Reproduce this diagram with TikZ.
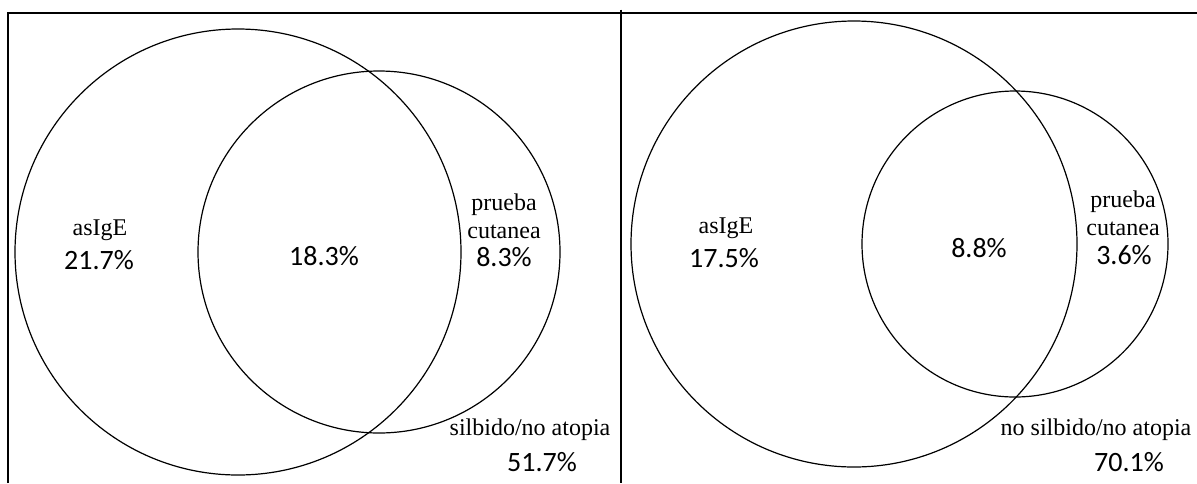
\documentclass[tikz,border=0pt]{standalone}
\usepackage{fontspec}
\setmainfont{Liberation Serif}
\newfontfamily\numfont{Carlito}
\usetikzlibrary{positioning}

\begin{document}
\begin{tikzpicture}[x=0.5pt, y=-0.5pt,
        venn/.style={circle, draw=black, line width=0.6pt,
                     inner sep=0pt, outer sep=0pt},
        word/.style={font=\fontsize{12}{14}\selectfont, inner sep=0pt, align=center},
        pct/.style={font=\numfont\fontsize{14}{16}\selectfont, inner sep=0pt},
        frame/.style={line width=1pt},
    ]
    \useasboundingbox (0,0) rectangle (1197,483);

    % marco
    \draw[frame] (8,483) -- (8,12.5) -- (1197,12.5);
    \draw[frame] (621,9.5) -- (621,483);

    % panel izquierdo
    \node[venn, minimum size=223pt] (asigeL) at (238,252) {};
    \node[venn, minimum size=181pt] (pruebaL) at (379,252) {};
    \node[word] (asigeLt) at (100,230) {asIgE};
    \node[pct] (asigeLv) at (99,260) {21.7\%};
    \node[pct] (ambosL) at (324,256) {18.3\%};
    \node[word] (pruebaLt) at (504,216) {prueba\\cutanea};
    \node[pct] (pruebaLv) at (504,257) {8.3\%};
    \node[word] (ningunoLt) at (530,430) {silbido/no atopia};
    \node[pct] (ningunoLv) at (542,462) {51.7\%};

    % panel derecho
    \node[venn, minimum size=223pt] (asigeR) at (854,244) {};
    \node[venn, minimum size=153pt] (pruebaR) at (1015,244) {};
    \node[word] (asigeRt) at (726,228) {asIgE};
    \node[pct] (asigeRv) at (724,258) {17.5\%};
    \node[pct] (ambosR) at (979,248) {8.8\%};
    \node[word] (pruebaRt) at (1123,213) {prueba\\cutanea};
    \node[pct] (pruebaRv) at (1124,255) {3.6\%};
    \node[word] (ningunoRt) at (1096,430) {no silbido/no atopia};
    \node[pct] (ningunoRv) at (1129,462) {70.1\%};
\end{tikzpicture}
\end{document}
